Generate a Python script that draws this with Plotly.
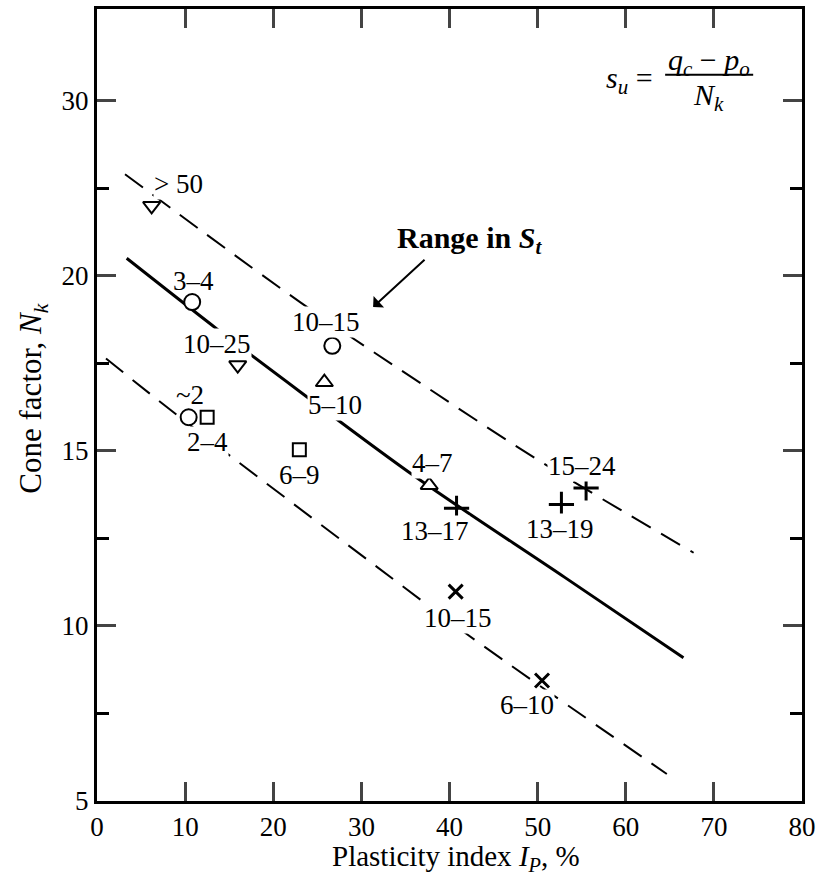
import plotly.graph_objects as go

# ---- data (y in drawn-axis coordinates) ----
pt_x = [6.2, 10.8, 15.97, 26.7, 25.8, 10.4, 12.5, 22.96, 37.7, 40.8, 52.7, 55.5, 40.7, 50.5]
pt_y = [22.0, 19.25, 17.45, 18.0, 16.96, 15.96, 15.96, 15.03, 14.02, 13.36, 13.47, 13.94, 10.98, 8.44]
pt_sym = ["triangle-down", "circle", "triangle-down", "circle", "triangle-up", "circle", "square",
          "square", "triangle-up", "cross-thin", "cross-thin", "cross-thin", "x-thin", "x-thin"]
pt_lab = ["> 50", "3–4", "10–25", "10–15", "5–10", "~2", "2–4", "6–9", "4–7", "13–17", "13–19",
          "15–24", "10–15", "6–10"]
lab_x = [9.3, 10.93, 13.59, 25.96, 27.0, 10.56, 12.52, 22.96, 38.1, 38.37, 52.55, 55.0, 41.0, 48.8]
lab_y = [22.62, 19.85, 18.05, 18.68, 16.31, 16.6, 15.24, 14.30, 14.65, 12.71, 12.76, 14.56, 10.23, 7.73]
lab_bg = [True, False, True, True, True, False, True, True, True, True, True, True, True, True]

mid_x = [3.37, 13.77, 23.04, 36.29, 53.12, 66.55]
mid_y = [20.5, 18.45, 16.69, 14.23, 11.38, 9.09]
up_x = [3.18, 23.04, 35.9, 50.3, 67.7]
up_y = [22.9, 19.25, 17.07, 14.70, 12.09]
lo_x = [1.02, 9.04, 33.6, 41.95, 64.66]
lo_y = [17.64, 16.03, 11.34, 9.77, 5.77]

x_ticks = [0, 10, 20, 30, 40, 50, 60, 70, 80]
y_tickvals = [5, 10, 15, 20, 25]
y_ticktext = ["5", "10", "15", "20", "30"]
y_minor = [7.5, 12.5, 17.5, 22.5]

FONT = "Liberation Serif, Times New Roman, serif"

fig = go.Figure()
dash = dict(color="black", width=2, dash="22px,12px")
fig.add_trace(go.Scatter(x=up_x, y=up_y, mode="lines", line=dash, line_shape="spline", hoverinfo="skip"))
fig.add_trace(go.Scatter(x=lo_x, y=lo_y, mode="lines", line=dash, line_shape="spline", hoverinfo="skip"))
fig.add_trace(go.Scatter(x=mid_x, y=mid_y, mode="lines", line=dict(color="black", width=3),
                         line_shape="spline", hoverinfo="skip"))

size_map = {"circle": 16, "triangle-down": 15, "triangle-up": 15, "square": 13, "cross-thin": 18, "x-thin": 14}
for x, y, s in zip(pt_x, pt_y, pt_sym):
    lw = 3 if "thin" in s else 2
    fig.add_trace(go.Scatter(x=[x], y=[y], mode="markers",
                             marker=dict(symbol=s, size=size_map[s], color="white",
                                         line=dict(color="black", width=lw)),
                             hoverinfo="skip"))

anns = []
for x, y, t, bg in zip(lab_x, lab_y, pt_lab, lab_bg):
    anns.append(dict(x=x, y=y, text=t, showarrow=False, font=dict(family=FONT, size=27, color="black"),
                     bgcolor="white" if bg else "rgba(0,0,0,0)", borderpad=0))

# Range in S_t with arrow
anns.append(dict(x=42.3, y=21.02, text="<b>Range in </b><b><i>S<sub>t</sub></i></b>", showarrow=False,
                 font=dict(family=FONT, size=30, color="black")))
anns.append(dict(x=31.33, y=19.11, ax=37.34, ay=20.5, axref="x", ayref="y", text="", showarrow=True,
                 arrowhead=1, arrowsize=1.3, arrowwidth=2, arrowcolor="black"))

# formula
anns.append(dict(x=60.4, y=25.6, text="<i>s<sub>u</sub></i> =", showarrow=False,
                 font=dict(family=FONT, size=30, color="black")))
anns.append(dict(x=69.4, y=26.12, text="<i>q<sub>c</sub></i> − <i>p<sub>o</sub></i>", showarrow=False,
                 font=dict(family=FONT, size=30, color="black")))
anns.append(dict(x=69.4, y=25.1, text="<i>N<sub>k</sub></i>", showarrow=False,
                 font=dict(family=FONT, size=30, color="black")))

# axis titles
anns.append(dict(xref="paper", yref="paper", x=0.509, y=-0.0717, yanchor="middle",
                 text="Plasticity index <i>I<sub>P</sub></i>, %", showarrow=False,
                 font=dict(family=FONT, size=29, color="black")))
anns.append(dict(xref="paper", yref="paper", x=-0.0908, y=0.508, xanchor="center", yanchor="middle",
                 textangle=-90, text="Cone factor, <i>N<sub>k</sub></i>", showarrow=False,
                 font=dict(family=FONT, size=31, color="black")))

shapes = [dict(type="line", x0=64.47, x1=74.46, y0=25.74, y1=25.74, xref="x", yref="y",
               line=dict(color="black", width=2))]

fig.update_layout(
    width=829, height=878,
    margin=dict(l=97, r=27, t=6, b=77),
    paper_bgcolor="white", plot_bgcolor="white",
    showlegend=False,
    annotations=anns, shapes=shapes,
    font=dict(family=FONT, size=27, color="black"),
)
fig.update_xaxes(range=[0, 80], tickvals=x_ticks, ticks="inside", ticklen=19, tickwidth=2.5,
                 showline=True, linewidth=3, linecolor="black", mirror="ticks", showgrid=False,
                 zeroline=False, tickfont=dict(family=FONT, size=27))
fig.update_yaxes(range=[5, 27.62], tickvals=y_tickvals, ticktext=y_ticktext, ticks="inside", ticklen=19,
                 tickwidth=2.5, showline=True, linewidth=3, linecolor="black", mirror="ticks",
                 showgrid=False, zeroline=False, tickfont=dict(family=FONT, size=27),
                 minor=dict(tickvals=y_minor, ticks="inside", ticklen=12, tickwidth=2.5,
                            tickcolor="black"))

fig.write_html("out.html", config={"displayModeBar": False},
               post_script="document.body.style.margin='0';document.body.style.padding='0';"
                           "document.documentElement.style.overflow='hidden';")
